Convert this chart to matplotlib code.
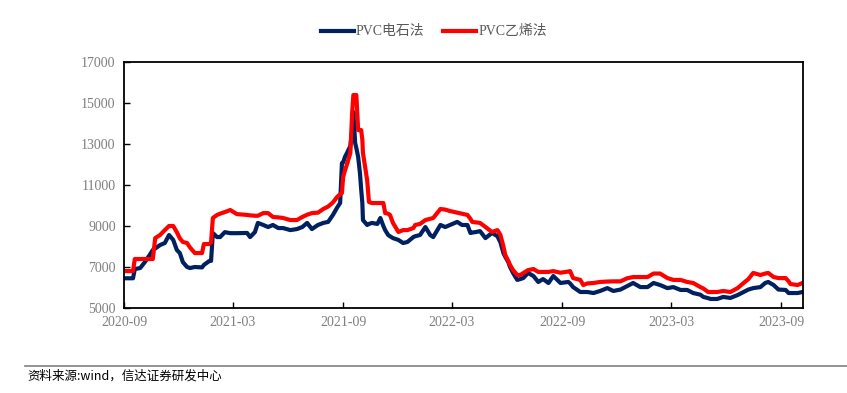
import numpy as np
import pandas as pd
import matplotlib.pyplot as plt
import matplotlib.dates as mdates

# dates, with carbide-process (blue) and ethylene-process (red) prices
dates = ['2020-09-01', '2020-09-16', '2020-09-19', '2020-09-28', '2020-10-06', '2020-10-14',
         '2020-10-19', '2020-10-23', '2020-10-31', '2020-11-08', '2020-11-15', '2020-11-22',
         '2020-11-28', '2020-12-03', '2020-12-08', '2020-12-15', '2020-12-20', '2020-12-28',
         '2021-01-09', '2021-01-12', '2021-01-21', '2021-01-24', '2021-01-27', '2021-02-03',
         '2021-02-08', '2021-02-16', '2021-02-25', '2021-03-08', '2021-03-25', '2021-03-30',
         '2021-04-07', '2021-04-12', '2021-04-21', '2021-04-29', '2021-05-07', '2021-05-16',
         '2021-05-24', '2021-06-05', '2021-06-16', '2021-06-25', '2021-07-03', '2021-07-11',
         '2021-07-21', '2021-07-30', '2021-08-07', '2021-08-15', '2021-08-22', '2021-08-27',
         '2021-08-30', '2021-09-01', '2021-09-04', '2021-09-08', '2021-09-13', '2021-09-16',
         '2021-09-18', '2021-09-21', '2021-09-23', '2021-09-26', '2021-09-29', '2021-10-01',
         '2021-10-03', '2021-10-04', '2021-10-11', '2021-10-14', '2021-10-19', '2021-10-28',
         '2021-11-02', '2021-11-07', '2021-11-10', '2021-11-15', '2021-11-18', '2021-11-23',
         '2021-12-02', '2021-12-10', '2021-12-17', '2021-12-27', '2021-12-30', '2022-01-07',
         '2022-01-16', '2022-01-24', '2022-01-29', '2022-02-10', '2022-02-18', '2022-02-26',
         '2022-03-10', '2022-03-18', '2022-03-27', '2022-04-01', '2022-04-04', '2022-04-09',
         '2022-04-17', '2022-04-26', '2022-05-07', '2022-05-16', '2022-05-21', '2022-05-26',
         '2022-05-29', '2022-06-03', '2022-06-06', '2022-06-11', '2022-06-18', '2022-06-23',
         '2022-06-28', '2022-07-06', '2022-07-15', '2022-07-23', '2022-07-31', '2022-08-09',
         '2022-08-17', '2022-08-29', '2022-09-11', '2022-09-14', '2022-09-19', '2022-10-01',
         '2022-10-06', '2022-10-13', '2022-10-23', '2022-11-03', '2022-11-15', '2022-11-25',
         '2022-12-07', '2022-12-18', '2022-12-28', '2023-01-09', '2023-01-21', '2023-01-31',
         '2023-02-11', '2023-02-23', '2023-03-05', '2023-03-17', '2023-03-28', '2023-04-07',
         '2023-04-19', '2023-04-24', '2023-05-02', '2023-05-06', '2023-05-17', '2023-05-27',
         '2023-06-08', '2023-06-20', '2023-06-30', '2023-07-08', '2023-07-16', '2023-07-28',
         '2023-08-05', '2023-08-10', '2023-08-19', '2023-08-27', '2023-09-08', '2023-09-13',
         '2023-09-16', '2023-09-28', '2023-10-06']

carbide = [6450, 6450, 6900, 6950, 7250, 7600, 7830, 7900, 8070, 8170, 8560, 8320,
           7830, 7680, 7240, 7000, 6950, 7000, 6980, 7100, 7290, 7300, 8660, 8460,
           8460, 8700, 8650, 8650, 8660, 8460, 8700, 9150, 9050, 8950, 9050, 8900,
           8900, 8800, 8850, 8950, 9150, 8850, 9050, 9150, 9200, 9540, 9900, 10120,
           12070, 12100, 12370, 12600, 12900, 13680, 14560, 13050, 12800, 12370, 11580, 10800,
           10120, 9290, 9050, 9100, 9150, 9100, 9390, 9000, 8800, 8560, 8500, 8410,
           8320, 8170, 8220, 8460, 8500, 8560, 8950, 8560, 8460, 9050, 8950, 9050,
           9200, 9050, 9050, 8660, 8680, 8700, 8750, 8410, 8660, 8500, 8200, 7680,
           7500, 7240, 7000, 6710, 6370, 6410, 6460, 6710, 6560, 6270, 6410, 6220,
           6560, 6220, 6270, 6200, 6020, 5780, 5780, 5780, 5730, 5830, 5970, 5830,
           5900, 6070, 6220, 6020, 6020, 6220, 6120, 5970, 6020, 5880, 5880, 5730,
           5650, 5540, 5480, 5440, 5440, 5540, 5490, 5630, 5780, 5900, 5970, 6020,
           6220, 6270, 6120, 5900, 5880, 5730, 5730, 5730, 5780]

ethylene = [6800, 6800, 7390, 7390, 7390, 7390, 7390, 8410, 8560, 8800, 9000, 9000,
            8700, 8400, 8220, 8170, 7950, 7680, 7680, 8120, 8120, 8200, 9390, 9540,
            9600, 9680, 9780, 9580, 9540, 9520, 9500, 9500, 9630, 9630, 9440, 9420,
            9390, 9290, 9290, 9440, 9550, 9630, 9650, 9830, 9950, 10150, 10420, 10550,
            10610, 11390, 11700, 12070, 12560, 14510, 15390, 15390, 15390, 13680, 13680, 13680,
            13200, 12560, 11240, 10170, 10120, 10120, 10120, 10120, 9630, 9600, 9540, 9150,
            8710, 8800, 8800, 8900, 9050, 9100, 9290, 9350, 9390, 9830, 9800, 9730,
            9650, 9600, 9540, 9350, 9200, 9180, 9150, 8950, 8710, 8800, 8560, 8000,
            7590, 7300, 7100, 6850, 6610, 6610, 6700, 6850, 6900, 6760, 6760, 6760,
            6800, 6720, 6780, 6800, 6460, 6370, 6120, 6200, 6220, 6270, 6290, 6300,
            6300, 6450, 6510, 6510, 6510, 6680, 6680, 6460, 6370, 6370, 6270, 6220,
            6020, 5950, 5780, 5780, 5780, 5830, 5780, 5970, 6220, 6410, 6710, 6610,
            6680, 6710, 6510, 6460, 6460, 6300, 6170, 6120, 6220]

xticks = ['2020-09', '2021-03', '2021-09', '2022-03', '2022-09', '2023-03', '2023-09']

d = pd.to_datetime(dates)
fam = ['Liberation Serif', 'Noto Sans CJK SC']

fig = plt.figure(figsize=(8.47, 3.93), dpi=100)
ax = fig.add_axes([0.1464, 0.2163, 0.9481 - 0.1464, 0.8422 - 0.2163])

ax.plot(d, carbide, color='#002060', lw=3.0, label='PVC电石法', solid_joinstyle='round')
ax.plot(d, ethylene, color='#ff0000', lw=3.0, label='PVC乙烯法', solid_joinstyle='round')

ax.set_ylim(5000, 17000)
ax.set_yticks(np.arange(5000, 17001, 2000))
ax.set_xlim(pd.Timestamp('2020-09-01'), pd.Timestamp('2023-10-07'))
ax.set_xticks(pd.to_datetime(xticks))
ax.xaxis.set_major_formatter(mdates.DateFormatter('%Y-%m'))

for s in ax.spines.values():
    s.set_linewidth(1.3)
ax.tick_params(direction='in', length=4, width=1, labelsize=10, labelcolor='#7f7f7f', pad=6)
for lab in ax.get_xticklabels() + ax.get_yticklabels():
    lab.set_family(fam)

leg = fig.legend(loc='center', bbox_to_anchor=(0.512, 0.919), ncol=2, frameon=False,
                 prop={'family': fam, 'size': 10}, handlelength=2.4, columnspacing=1.3,
                 handletextpad=0.15)
for t in leg.get_texts():
    t.set_color('#595959')

fig.add_artist(plt.Line2D([0.03, 1.0], [1 - 366 / 393, 1 - 366 / 393], color='#808080', lw=1.2))
fig.text(0.032, 1 - 376 / 393, '资料来源:wind，信达证券研发中心', fontsize=9, style='italic',
         family=['Noto Sans CJK SC', 'DejaVu Sans'], va='center', ha='left', color='#000000')

fig.savefig('out.png', dpi=100)
